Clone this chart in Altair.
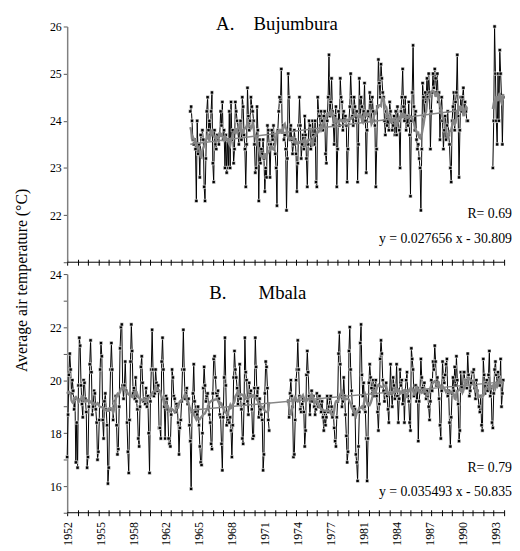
import altair as alt
import pandas as pd

# ---------------- data (monthly mean air temperature, deg C) ----------------
# Bujumbura, main record starting Nov 1963
buj_main_start = 1963 + 10 / 12
buj_main = [
    24.2, 24.3,
    24.0, 23.6, 23.5, 23.6, 23.4, 22.3, 24.0, 23.3, 23.5, 22.8, 23.7, 23.6,
    23.8, 23.6, 22.6, 22.3, 23.2, 24.2, 24.5, 23.8, 24.0, 23.7, 24.2, 24.6,
    23.1, 22.7, 23.8, 23.5, 23.4, 23.7, 23.6, 23.5, 23.7, 24.2, 23.9, 24.4,
    23.6, 23.8, 23.0, 23.7, 22.9, 23.6, 23.0, 24.2, 23.0, 24.4, 23.6, 23.8,
    23.1, 23.4, 24.4, 24.2, 24.0, 23.8, 23.5, 23.9, 24.0, 23.6, 24.5, 24.3,
    23.7, 23.4, 22.6, 23.5, 24.7, 24.1, 23.8, 24.0, 24.5, 24.3, 24.2, 24.0,
    23.5, 22.9, 23.0, 24.3, 23.8, 22.3, 23.6, 23.1, 23.4, 23.3, 23.6, 23.2,
    22.5, 23.0, 22.8, 23.9, 23.8, 23.5, 22.8, 23.5, 23.8, 23.6, 23.9, 23.5,
    23.3, 23.0, 22.2, 23.8, 24.2, 24.5, 24.4, 25.1, 23.8, 23.9, 23.6, 23.7,
    23.4, 22.1, 23.2, 25.0, 24.5, 23.6, 23.9, 23.6, 23.3, 23.5, 23.8, 23.6,
    23.3, 22.5, 23.1, 23.9, 24.5, 23.9, 23.2, 23.5, 23.7, 23.4, 24.1, 23.7,
    23.2, 22.6, 23.5, 24.0, 23.9, 23.4, 23.6, 24.0, 23.7, 23.5, 24.0, 22.7,
    22.6, 24.5, 24.2, 24.1, 23.9, 24.2, 24.0, 23.8, 24.1, 24.2, 23.3, 23.1,
    24.0, 24.5, 25.4, 24.1, 24.4, 24.9, 24.2, 23.9, 23.5, 24.1, 24.3, 22.6,
    23.4, 24.2, 23.9, 24.9, 24.5, 24.4, 23.8, 24.2, 24.0, 24.1, 23.9, 22.7,
    23.4, 24.0, 24.3, 25.0, 24.5, 24.1, 23.9, 24.5, 24.3, 24.0, 24.2, 22.7,
    23.5, 24.9, 24.1, 24.5, 24.3, 24.0, 24.2, 24.8, 24.0, 22.9, 23.8, 24.2,
    24.1, 24.6, 24.4, 24.0, 24.5, 24.2, 24.0, 23.9, 22.6, 23.4, 24.3, 25.3,
    24.8, 24.5, 25.2, 24.9, 24.6, 24.5, 24.0, 23.7, 24.2, 23.9, 24.1, 23.8,
    24.4, 24.2, 24.0, 23.8, 23.9, 24.1, 23.7, 24.2, 23.7, 24.3, 24.0, 23.8,
    23.0, 24.2, 24.5, 25.1, 24.3, 24.0, 24.5, 23.8, 24.1, 23.9, 24.4, 23.7,
    22.4, 24.0, 24.6, 25.6, 24.3, 23.8, 24.2, 23.6, 23.4, 23.5, 23.2, 23.0,
    22.1, 23.4, 24.8, 24.5, 24.1, 24.6, 24.4, 24.9, 24.5, 25.0, 24.6, 23.4,
    24.2, 24.6, 25.0, 24.7, 25.1, 24.9, 24.6, 25.0, 24.4, 24.6, 23.6, 24.2,
    24.5, 24.0, 23.4, 23.8, 24.1, 23.6, 23.9, 24.2, 23.7, 23.5, 23.0, 22.7,
    24.0, 24.3, 24.6, 23.8, 24.4, 24.6, 25.4, 24.1, 22.8, 23.8, 24.5, 24.2,
    24.5, 24.7, 24.2, 24.4, 24.2, 24.0, 24.0,
]
# Bujumbura, short record starting Dec 1992
buj_late_start = 1992 + 11 / 12
buj_late = [23.0, 24.0, 26.0, 25.0, 24.0, 23.5, 25.0, 24.0, 25.5, 25.0, 24.5, 23.5, 24.5]

# Mbala, record starting Jan 1952 (to mid 1971)
mb_early_start = 1952.0
mb_early = [
    17.1, 18.7, 20.2, 21.0, 20.4, 19.5, 20.0, 19.6, 18.9, 19.3, 16.9, 18.4,
    16.7, 19.8, 21.6, 21.3, 19.8, 19.1, 18.6, 20.0, 19.9, 19.3, 18.8, 16.7,
    17.1, 19.0, 20.6, 21.5, 20.3, 18.7, 19.0, 19.6, 19.5, 18.9, 18.4, 17.0,
    17.3, 18.5, 20.4, 21.4, 20.9, 18.5, 17.8, 19.2, 19.5, 18.9, 18.3, 16.1,
    16.7, 18.9, 20.4, 21.4, 20.4, 18.5, 19.0, 19.2, 19.4, 18.3, 17.2, 17.4,
    19.0, 21.2, 22.0, 22.1, 19.8, 19.3, 19.8, 20.7, 19.6, 18.4, 17.3, 16.5,
    18.5, 20.7, 22.1, 21.1, 19.5, 19.7, 19.3, 20.1, 19.2, 18.9, 17.8, 17.5,
    19.0, 20.5, 20.9, 19.9, 19.2, 19.3, 19.1, 19.7, 19.0, 19.4, 18.0, 16.5,
    19.2, 20.4, 21.9, 20.4, 19.4, 19.5, 20.4, 19.9, 19.6, 19.8, 18.2, 18.2,
    17.8, 20.7, 21.6, 20.4, 19.0, 17.8, 19.4, 19.3, 18.9, 17.8, 17.6, 17.5,
    18.7, 20.4, 20.1, 19.4, 19.3, 18.8, 19.1, 19.0, 18.4, 17.2, 18.2, 18.5,
    19.2, 20.4, 21.9, 20.4, 19.3, 19.5, 19.7, 19.1, 19.3, 18.3, 17.7, 15.9,
    18.8, 19.5, 20.6, 19.2, 18.8, 19.0, 18.7, 19.0, 18.3, 17.5, 16.9, 16.8,
    18.0, 19.7, 20.5, 19.8, 19.2, 19.4, 19.5, 19.0, 18.7, 18.4, 17.6, 17.4,
    19.5, 20.8, 20.9, 20.1, 19.5, 19.4, 19.6, 19.3, 18.7, 18.6, 17.6, 16.6,
    18.6, 20.1, 21.6, 19.8, 18.3, 18.7, 18.5, 18.4, 18.6, 18.1, 17.1, 18.3,
    20.1, 21.1, 20.4, 20.1, 19.7, 19.1, 19.4, 20.6, 19.3, 18.9, 17.8, 17.6,
    19.1, 21.6, 20.3, 20.0, 19.2, 18.7, 19.9, 19.4, 19.6, 18.9, 17.8, 17.9,
    19.7, 21.6, 20.5, 19.4, 19.7, 18.6, 19.3, 18.9, 18.7, 18.5, 16.6, 17.2,
    19.5, 20.7, 20.5, 19.7, 18.5, 18.1,
]
# Mbala, record resuming Apr 1973
mb_late_start = 1973 + 3 / 12
mb_late = [
    19.2, 18.6, 19.5, 20.0, 19.4, 19.0, 17.1, 17.2, 18.5,
    20.0, 20.4, 21.5, 20.4, 19.4, 18.9, 18.8, 19.1, 19.3, 18.8, 17.5, 18.1,
    20.2, 21.1, 20.3, 19.4, 18.7, 19.2, 19.6, 19.2, 19.4, 19.0, 18.7, 18.9,
    19.5, 19.3, 19.0, 19.4, 19.2, 18.8, 19.2, 18.6, 18.1, 18.8, 18.3, 18.6,
    19.4, 18.8, 19.0, 19.3, 19.4, 19.0, 18.6, 18.8, 18.2, 17.7, 17.5, 18.6,
    19.2, 21.0, 21.8, 20.6, 19.4, 19.0, 19.2, 20.1, 19.4, 18.7, 17.9, 16.9,
    17.3, 21.1, 22.0, 20.4, 19.6, 19.0, 18.7, 19.0, 18.9, 17.2, 16.9, 16.2,
    17.5, 18.8, 21.4, 22.1, 20.2, 19.4, 19.9, 19.0, 18.8, 17.8, 16.2, 17.8,
    19.9, 20.6, 20.1, 19.7, 19.5, 20.0, 19.4, 19.8, 20.0, 19.4, 18.8, 18.1,
    19.1, 20.8, 21.5, 21.0, 20.0, 19.6, 19.2, 19.5, 19.9, 19.4, 18.9, 18.4,
    19.5, 20.6, 19.5, 19.0, 20.1, 19.8, 19.3, 19.6, 20.6, 19.4, 18.4, 19.3,
    20.4, 19.8, 20.0, 19.1, 19.6, 18.4, 19.6, 20.0, 20.3, 19.4, 19.2, 18.4,
    18.1, 21.2, 20.8, 20.4, 19.4, 19.6, 19.8, 19.2, 19.7, 17.7, 19.2, 19.6,
    20.8, 20.1, 19.7, 19.6, 19.9, 19.5, 19.3, 19.6, 19.4, 19.0, 18.5, 19.2,
    20.0, 19.6, 20.7, 20.4, 21.3, 20.7, 19.8, 20.1, 19.9, 19.3, 18.3, 17.8,
    19.6, 20.7, 20.1, 19.9, 20.2, 20.6, 20.8, 19.4, 19.6, 18.4, 17.5, 18.6,
    19.5, 20.1, 19.6, 20.5, 19.8, 20.9, 20.0, 19.1, 17.7, 18.1, 20.3, 19.6,
    19.6, 20.3, 20.3, 19.8, 20.0, 19.7, 21.0, 20.2, 19.4, 19.6, 19.9, 20.3,
    20.3, 20.4, 19.7, 19.3, 20.0, 19.6, 19.4, 19.0, 18.8, 19.4, 18.3, 18.1,
    20.8, 20.2, 19.5, 19.9, 20.0, 19.6, 20.2, 21.1, 19.4, 19.7, 18.4, 18.2,
    19.5, 20.4, 20.7, 20.2, 19.9, 20.3, 20.1, 19.8, 20.8, 19.0, 19.5, 20.0,
]

# linear fits printed on the chart (x in years) and the spans they are drawn over
buj_fit = [0.027656, -30.809]
mb_fit = [0.035493, -50.835]
buj_fit_span = [buj_main_start, buj_main_start + (len(buj_main) - 1) / 12]
mb_fit_span = [buj_main_start, mb_late_start + (len(mb_late) - 1) / 12]
buj_labels = ["A.", "Bujumbura", "R= 0.69", "y = 0.027656 x - 30.809"]
mb_labels = ["B.", "Mbala", "R= 0.79", "y = 0.035493 x - 50.835"]

year_ticks = list(range(1952, 1995))
label_positions = [round(1952 + k * 38 / 12, 4) for k in range(14)]

Y_TITLE = "Average air temperature (°C)"
FONT = "Liberation Serif"
GREY = "#858585"
W = 443


def series(start, vals, seg):
    return pd.DataFrame({
        "x": [start + i / 12 for i in range(len(vals))],
        "v": vals,
        "seg": seg,
    })


buj_df = pd.concat([series(buj_main_start, buj_main, "a"),
                    series(buj_late_start, buj_late, "b")], ignore_index=True)
mb_df = pd.concat([series(mb_early_start, mb_early, "a"),
                   series(mb_late_start, mb_late, "b")], ignore_index=True)

buj_trend = pd.DataFrame({"x": buj_fit_span})
mb_trend = pd.DataFrame({"x": mb_fit_span})


def panel(df, trend_df, fit, ydom, yvals, ylabel_expr, labels, pos, height, xaxis):
    xs = alt.Scale(domain=[1952, 1994], nice=False, zero=False)
    ys = alt.Scale(domain=ydom, nice=False, zero=False)
    yaxis = alt.Axis(values=yvals, labelExpr=ylabel_expr, tickSize=4, labelPadding=2,
                     domainColor="#808080", domainWidth=1.5, tickColor="#555555",
                     labelFontSize=12, labelColor="black", labelOverlap=False,
                     grid=False, title=None)

    # every layer gets the very same axis definition, so the shared axis merges cleanly
    raw = alt.Chart(df).mark_line(
        color="black", strokeWidth=1,
        point=alt.OverlayMarkDef(shape="square", size=11, filled=True, fill="black",
                                 stroke="white", strokeWidth=0.6),
    ).encode(
        x=alt.X("x:Q", scale=xs, axis=xaxis),
        y=alt.Y("v:Q", scale=ys, axis=yaxis),
        detail="seg:N",
    )
    ma = alt.Chart(df).transform_window(
        ma="mean(v)", frame=[-6, 5], groupby=["seg"], sort=[alt.SortField("x")]
    ).mark_line(color=GREY, strokeWidth=2.4).encode(
        x=alt.X("x:Q", scale=xs, axis=xaxis),
        y=alt.Y("ma:Q", scale=ys, axis=yaxis),
        detail="seg:N",
    )
    trend = alt.Chart(trend_df).transform_calculate(
        t=f"{fit[0]} * datum.x + {fit[1]}"
    ).mark_line(color=GREY, strokeWidth=1.5).encode(
        x=alt.X("x:Q", scale=xs, axis=xaxis),
        y=alt.Y("t:Q", scale=ys, axis=yaxis),
    )
    baseline = alt.Chart(pd.DataFrame({"b": [ydom[0]]})).mark_rule(
        color="black", strokeWidth=1
    ).encode(y=alt.Y("b:Q", scale=ys, axis=yaxis))

    def txt(s, size, align, x, y):
        return alt.Chart(pd.DataFrame({"t": [s]})).mark_text(
            font=FONT, fontSize=size, align=align, baseline="alphabetic", color="black"
        ).encode(text="t:N", x=alt.value(x), y=alt.value(y))

    letter = txt(labels[0], 19, "left", pos[0], pos[2])
    name = txt(labels[1], 19, "left", pos[1], pos[2])
    rtxt = txt(labels[2], 14, "right", W + 8, pos[3])
    eqtxt = txt(labels[3], 14, "right", W + 8, pos[4])

    return alt.layer(raw, ma, trend, baseline, letter, name, rtxt, eqtxt).properties(
        width=W, height=height
    )


top_xaxis = alt.Axis(values=year_ticks, labels=False, domain=False, offset=-3, tickSize=6,
                     tickColor="black", grid=False, title=None)
bottom_xaxis = alt.Axis(
    values=sorted(set(year_ticks) | set(label_positions)),
    labelExpr="abs((datum.value - 1952) * 12 / 38 - round((datum.value - 1952) * 12 / 38)) < 0.01 ? format(round(datum.value), 'd') : ''",
    tickOpacity={"condition": {"test": "datum.value % 1 == 0", "value": 1}, "value": 0},
    labelAngle=270, labelFlush=False, labelOverlap=False, labelPadding=6,
    labelFontSize=12, labelColor="black", domain=False, offset=-3, tickSize=6,
    tickColor="black", grid=False, title=None,
)

top = panel(buj_df, buj_trend, buj_fit, [21, 26], [21, 22, 23, 24, 25, 26],
            "datum.value >= 22 ? datum.value : ''", buj_labels,
            [151, 189, 4, 194, 220], 239, top_xaxis)
bottom = panel(mb_df, mb_trend, mb_fit, [15, 24], list(range(15, 25)),
               "datum.value % 2 == 0 && datum.value >= 16 ? datum.value : ''", mb_labels,
               [144, 194, 25, 201, 225], 242, bottom_xaxis)

chart = alt.vconcat(top, bottom, spacing=0).properties(
    title=alt.TitleParams(Y_TITLE, orient="left", anchor="middle", fontSize=16,
                          fontWeight="normal", font=FONT, color="black", offset=20),
    padding={"left": 5, "top": 4, "right": 0, "bottom": 0},
).configure(font=FONT).configure_view(stroke=None)

chart.save("out.html", embed_options={"renderer": "svg", "actions": False})
